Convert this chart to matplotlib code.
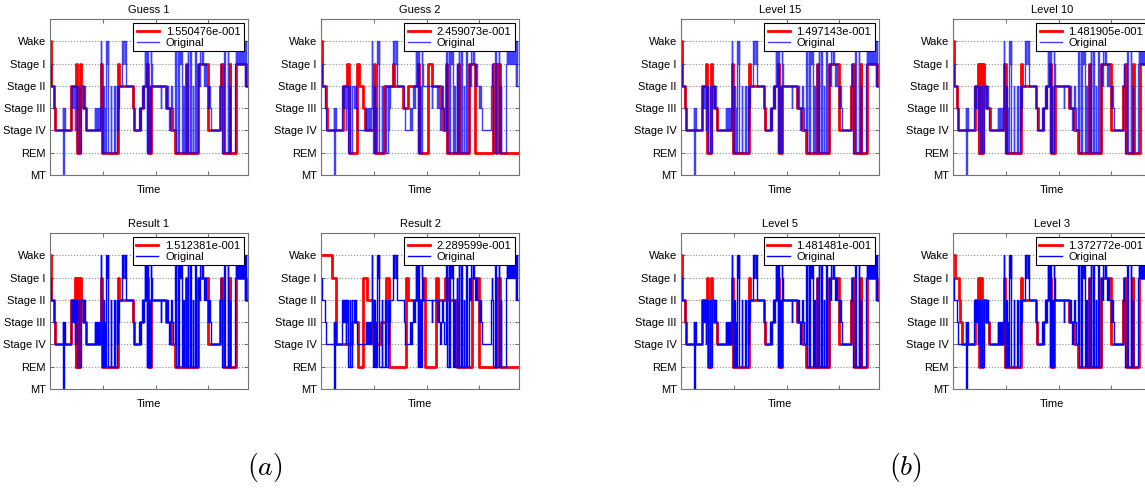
import numpy as np
import matplotlib
matplotlib.use("Agg")
import matplotlib.pyplot as plt

plt.rcParams["font.family"] = ["Liberation Sans", "DejaVu Sans"]
plt.rcParams["mathtext.fontset"] = "cm"

# stage codes: 0=MT 1=REM 2=Stage IV 3=Stage III 4=Stage II 5=Stage I 6=Wake
stage_labels = ["MT", "REM", "Stage IV", "Stage III", "Stage II", "Stage I", "Wake"]
n_epochs = 750

# hypnograms as (stage, number of epochs) runs
original = [
    (5, 3), (4, 12), (3, 5), (2, 29), (3, 2), (0, 3), (3, 1), (2, 26),
    (4, 2), (3, 2), (4, 2), (3, 1), (4, 2), (3, 2), (4, 1), (2, 2), (4, 3), (3, 2), (4, 2),
    (1, 8), (4, 1), (1, 6), (4, 8), (3, 3), (4, 3), (3, 5), (2, 33),
    (3, 3), (2, 2), (3, 4), (2, 2), (3, 2), (2, 3), (3, 3), (2, 2), (3, 2),
    (6, 3), (3, 2), (1, 4), (4, 3), (1, 3), (3, 2), (1, 4), (6, 3), (5, 2), (6, 2),
    (1, 10), (4, 2), (1, 12), (4, 2), (1, 6), (4, 2), (2, 2), (4, 3), (3, 2), (4, 10),
    (5, 2), (6, 3), (5, 2), (6, 5), (5, 2), (6, 3), (4, 26), (3, 6), (2, 18),
    (3, 4), (2, 3), (3, 5), (4, 3), (3, 2), (4, 4), (6, 2), (4, 2), (6, 3), (1, 3),
    (6, 2), (1, 5), (4, 2), (1, 4), (6, 2), (5, 3), (4, 33), (3, 2), (4, 18),
    (3, 4), (4, 2), (3, 6), (2, 3), (3, 5), (4, 2), (3, 4), (2, 6), (3, 2),
    (6, 3), (1, 6), (6, 2), (1, 4), (6, 4), (5, 2), (6, 4), (1, 5), (4, 2), (1, 8),
    (5, 2), (1, 6), (6, 2), (1, 8), (6, 3), (1, 6), (4, 2), (1, 8), (6, 3), (1, 6),
    (5, 4), (4, 3), (5, 3), (6, 4), (5, 2), (6, 3), (5, 4), (4, 6), (5, 2), (4, 7),
    (3, 6), (4, 2), (3, 4), (2, 33), (4, 3), (5, 2), (4, 4), (1, 6), (6, 3), (1, 12),
    (6, 3), (1, 4), (4, 2), (1, 20), (5, 2), (6, 2), (5, 2), (6, 3), (5, 1), (6, 2),
    (5, 2), (6, 2), (5, 1), (6, 3), (5, 2), (6, 2), (5, 1), (6, 2), (5, 2), (6, 2),
    (5, 2), (6, 2), (4, 2), (5, 2), (6, 2), (4, 7),
]

guess1 = [
    (6, 3), (4, 12), (3, 5), (2, 60), (4, 18), (5, 3), (1, 13), (5, 3), (4, 8), (3, 13),
    (2, 56), (5, 4), (1, 60), (5, 4), (4, 52), (3, 6), (2, 20), (3, 12), (4, 14), (5, 4),
    (1, 14), (4, 56), (3, 19), (2, 13), (1, 44), (5, 3), (1, 41), (5, 38), (2, 45),
    (4, 6), (5, 6), (1, 25), (5, 3), (1, 23), (5, 36), (4, 8),
]
guess2 = [
    (6, 3), (4, 17), (3, 4), (2, 58), (4, 18), (5, 6), (1, 32), (5, 6), (4, 14), (3, 8),
    (2, 34), (5, 6), (1, 34), (4, 32), (5, 6), (4, 32), (3, 18), (4, 38), (5, 4),
    (1, 36), (5, 16), (4, 32), (3, 10), (2, 8), (5, 6), (1, 40), (5, 6), (1, 36),
    (5, 23), (1, 70), (5, 10), (1, 4), (5, 10), (1, 73),
]
result1 = [
    (6, 3), (4, 12), (3, 5), (2, 60), (4, 14), (5, 3), (1, 3), (5, 3), (1, 4), (5, 3),
    (1, 4), (5, 3), (4, 8), (3, 13), (2, 56), (5, 4), (1, 60), (5, 4), (4, 52), (3, 6),
    (2, 20), (3, 12), (4, 14), (5, 4), (1, 14), (4, 56), (3, 19), (2, 13), (1, 44),
    (5, 3), (1, 41), (5, 38), (2, 45), (4, 6), (5, 6), (1, 25), (5, 3), (1, 23),
    (5, 36), (4, 8),
]
result2 = [
    (6, 40), (5, 17), (2, 62), (3, 20), (1, 19), (5, 18), (4, 20), (2, 30), (3, 20),
    (5, 10), (1, 66), (5, 6), (4, 58), (5, 8), (1, 40), (5, 10), (4, 26), (5, 10),
    (4, 34), (1, 57), (5, 27), (1, 68), (5, 12), (1, 72),
]
level15 = [
    (6, 3), (4, 12), (3, 5), (2, 60), (4, 16), (5, 3), (1, 15), (5, 3), (4, 8), (3, 13),
    (2, 56), (5, 4), (1, 60), (5, 4), (4, 52), (3, 6), (2, 20), (3, 12), (4, 14), (5, 4),
    (1, 14), (4, 56), (3, 19), (2, 13), (1, 44), (5, 3), (1, 41), (5, 38), (2, 45),
    (4, 6), (5, 6), (1, 25), (5, 3), (1, 23), (5, 36), (4, 8),
]
level10 = [
    (6, 3), (4, 12), (3, 5), (2, 62), (4, 12), (5, 4), (1, 2), (5, 3), (1, 3), (5, 4),
    (1, 5), (5, 3), (4, 8), (3, 13), (2, 56), (5, 4), (1, 60), (5, 4), (4, 52), (3, 6),
    (2, 20), (3, 12), (4, 14), (5, 4), (1, 14), (4, 56), (3, 19), (2, 13), (1, 44),
    (5, 3), (1, 41), (5, 38), (2, 45), (4, 6), (5, 6), (1, 25), (5, 3), (1, 23),
    (5, 36), (4, 8),
]
level5 = [
    (6, 3), (4, 12), (3, 5), (2, 60), (4, 18), (5, 3), (1, 13), (5, 3), (4, 8), (3, 13),
    (2, 56), (5, 4), (1, 60), (5, 4), (4, 52), (3, 6), (2, 20), (3, 12), (4, 14), (5, 4),
    (1, 14), (4, 56), (3, 19), (2, 13), (1, 44), (5, 3), (1, 41), (5, 38), (2, 45),
    (4, 6), (5, 6), (1, 25), (5, 3), (1, 23), (5, 36), (4, 8),
]
level3 = [
    (6, 6), (5, 18), (4, 3), (3, 8), (2, 47), (4, 14), (5, 4), (1, 4), (5, 5), (1, 6),
    (4, 10), (3, 13), (2, 56), (5, 4), (1, 60), (5, 4), (4, 52), (3, 6), (2, 20),
    (3, 12), (4, 14), (5, 4), (1, 14), (4, 56), (3, 19), (2, 13), (1, 44), (5, 3),
    (1, 41), (5, 38), (2, 45), (4, 6), (5, 6), (1, 25), (5, 3), (1, 23), (5, 36), (4, 8),
]

titles = ["Guess 1", "Guess 2", "Result 1", "Result 2", "Level 15", "Level 10", "Level 5", "Level 3"]
reds = [guess1, guess2, result1, result2, level15, level10, level5, level3]
scores = ["1.550476e-001", "2.459073e-001", "1.512381e-001", "2.289599e-001",
          "1.497143e-001", "1.481905e-001", "1.481481e-001", "1.372772e-001"]
faded = [True, True, False, False, True, True, False, False]


def expand(runs):
    lv = [r[0] for r in runs]
    edges = np.concatenate([[0], np.cumsum([r[1] for r in runs])])
    return edges, lv + [lv[-1]]


W, H = 1145, 491
fig = plt.figure(figsize=(W / 100, H / 100), dpi=100)

col_left = [50, 321, 681, 953]
row_bottom = [175, 389]
aw, ah = 198, 156
# (col, row) for each panel
slots = [(0, 0), (1, 0), (0, 1), (1, 1), (2, 0), (3, 0), (2, 1), (3, 1)]

for i, (c, r) in enumerate(slots):
    ax = fig.add_axes([col_left[c] / W, 1 - row_bottom[r] / H, aw / W, ah / H])
    x, y = expand(reds[i])
    ax.step(x, y, where="post", color="#ff0000", lw=2.0, label=scores[i])
    xo, yo = expand(original)
    ax.step(xo, yo, where="post", color="#0000ff", lw=1.0,
            alpha=0.75 if faded[i] else 1.0, label="Original")
    ax.set_xlim(0, n_epochs)
    ax.set_ylim(0, 7)
    ax.set_yticks(range(7))
    ax.set_yticklabels(stage_labels)
    ax.set_xticks([200, 400, 600])
    ax.set_xticklabels([])
    ax.tick_params(direction="in", length=3, width=0.6, color="0.35",
                   top=True, right=True, labelsize=8, pad=3)
    ax.yaxis.grid(True, linestyle=":", color="0.55", lw=0.8)
    for s in ax.spines.values():
        s.set_color("0.45")
        s.set_linewidth(0.8)
    ax.set_title(titles[i], fontsize=8, pad=4)
    ax.set_xlabel("Time", fontsize=8, labelpad=4)
    leg = ax.legend(loc="upper right", fontsize=8, fancybox=False, framealpha=1,
                    edgecolor="black", handlelength=2.0, borderpad=0.3,
                    labelspacing=0.1, handletextpad=0.6, borderaxespad=0.4)
    leg.get_frame().set_linewidth(0.8)

fig.text(265 / W, 1 - 467 / H, r"$(a)$", fontsize=20, ha="center", va="center")
fig.text(905 / W, 1 - 467 / H, r"$(b)$", fontsize=20, ha="center", va="center")

fig.savefig("out.png", dpi=100)
